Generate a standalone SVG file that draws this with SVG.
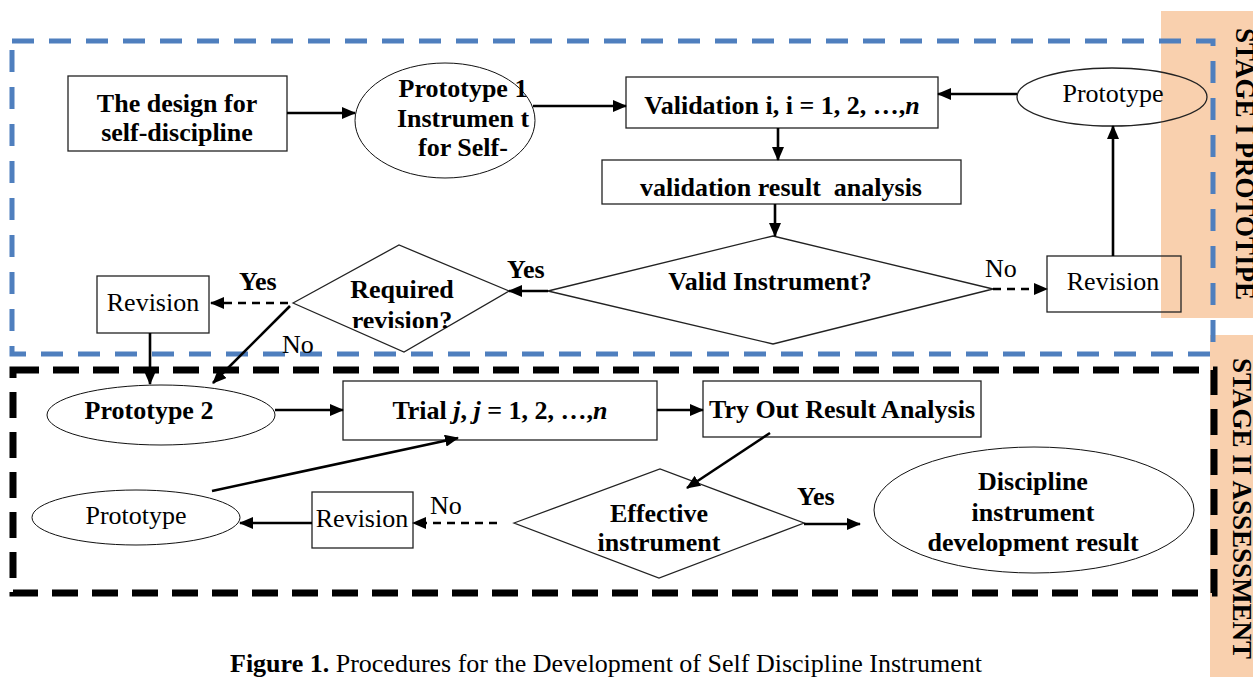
<svg xmlns="http://www.w3.org/2000/svg" width="1253" height="677" viewBox="0 0 1253 677">
  <style>
    text { font-family: "Liberation Serif", "Times New Roman", serif; font-size: 26px; fill: #000; }
    .b { font-weight: bold; }
    .c { text-anchor: middle; }
    .box { fill: #fff; stroke: #222; stroke-width: 1.3; }
    .open { fill: none; stroke: #222; stroke-width: 1.3; }
    .ell { fill: #fff; stroke: #111; stroke-width: 1; }
    .link { fill: none; stroke: #000; stroke-width: 2.6; marker-end: url(#head); }
    .dash { fill: none; stroke: #000; stroke-width: 2.6; stroke-dasharray: 8 6; marker-end: url(#head); }
    .band { fill: #F9D0AE; }
    .stage { font-size: 27px; font-weight: bold; }
  </style>
  <defs>
    <marker id="head" markerUnits="userSpaceOnUse" markerWidth="14" markerHeight="12" refX="13" refY="6" orient="auto">
      <path d="M0,0 L14,6 L0,12 z" fill="#000"/>
    </marker>
    <clipPath id="reqClip">
      <rect x="330" y="250" width="150" height="78"/>
    </clipPath>
  </defs>

  <!-- stage side bands -->
  <g id="stage-bands">
    <rect class="band" x="1161" y="11" width="92" height="307"/>
    <rect class="band" x="1210" y="335" width="43" height="342"/>
    <text class="stage" transform="translate(1236,28) rotate(90)">STAGE I PROTOTIPE</text>
    <text class="stage" transform="translate(1233,358) rotate(90)">STAGE II ASSESSMENT</text>
  </g>

  <!-- stage frames -->
  <g id="frames">
    <rect x="12" y="41" width="1201" height="313" fill="none" stroke="#4F7FBE" stroke-width="5" stroke-dasharray="22 15"/>
    <rect x="13" y="370" width="1201" height="223" fill="none" stroke="#000" stroke-width="7" stroke-dasharray="26 14"/>
  </g>

  <!-- Stage I nodes -->
  <g id="design">
    <rect class="box" x="68" y="76" width="219" height="75"/>
    <text class="b c" x="177" y="112">The design for</text>
    <text class="b c" x="177" y="141">self-discipline</text>
  </g>
  <g id="prototype1">
    <ellipse class="ell" cx="445" cy="120.5" rx="90" ry="57.5"/>
    <text class="b c" x="463" y="97">Prototype 1</text>
    <text class="b c" x="463" y="127">Instrumen t</text>
    <text class="b c" x="463" y="156">for Self-</text>
  </g>
  <g id="validation">
    <rect class="box" x="626" y="77" width="312" height="51"/>
    <text class="b c" x="782" y="114">Validation i, i = 1, 2, …,<tspan font-style="italic">n</tspan></text>
  </g>
  <g id="analysis">
    <rect class="box" x="602" y="160" width="359" height="44"/>
    <text class="b c" x="781" y="196" xml:space="preserve">validation result  analysis</text>
  </g>
  <g id="valid-decision">
    <polygon class="box" points="548,291 773,236 993,289 773,344"/>
    <text class="b c" x="770" y="290">Valid Instrument?</text>
  </g>
  <g id="prototype-top">
    <ellipse class="open" cx="1112" cy="97" rx="95" ry="29" stroke-width="1"/>
    <text class="c" x="1113" y="102">Prototype</text>
  </g>
  <g id="revision-top">
    <rect class="open" x="1047" y="256" width="134" height="56"/>
    <text class="c" x="1113" y="290">Revision</text>
  </g>
  <g id="required-decision">
    <polygon class="box" points="293,303 399,245 509,291 404,352"/>
    <text class="b c" x="402" y="298">Required</text>
    <text class="b c" x="402" y="329" clip-path="url(#reqClip)">revision?</text>
  </g>
  <g id="revision-left">
    <rect class="box" x="97" y="276" width="112" height="57"/>
    <text class="c" x="153" y="311">Revision</text>
  </g>

  <!-- Stage II nodes -->
  <g id="prototype2">
    <ellipse class="ell" cx="161" cy="415" rx="114" ry="30"/>
    <text class="b c" x="149" y="419">Prototype 2</text>
  </g>
  <g id="trial">
    <rect class="box" x="343" y="381" width="314" height="59"/>
    <text class="b c" x="500" y="419">Trial <tspan font-style="italic">j</tspan>, <tspan font-style="italic">j</tspan> = 1, 2, …,<tspan font-style="italic">n</tspan></text>
  </g>
  <g id="tryout">
    <rect class="box" x="703" y="381" width="278" height="56"/>
    <text class="b c" x="842" y="418">Try Out Result Analysis</text>
  </g>
  <g id="effective-decision">
    <polygon class="box" points="514,523 660,469 804,523 659,578"/>
    <text class="b c" x="659" y="522">Effective</text>
    <text class="b c" x="659" y="551">instrument</text>
  </g>
  <g id="result">
    <ellipse class="ell" cx="1034" cy="510" rx="160" ry="63"/>
    <text class="b c" x="1033" y="490">Discipline</text>
    <text class="b c" x="1033" y="521">instrument</text>
    <text class="b c" x="1033" y="551">development result</text>
  </g>
  <g id="revision-bottom">
    <rect class="box" x="312" y="492" width="101" height="56"/>
    <text class="c" x="362" y="527">Revision</text>
  </g>
  <g id="prototype-bottom">
    <ellipse class="ell" cx="136" cy="517.5" rx="104" ry="27.5"/>
    <text class="c" x="136" y="524">Prototype</text>
  </g>

  <!-- connectors -->
  <g id="connectors">
    <line class="link" x1="287" y1="113" x2="355" y2="113"/>
    <line class="link" x1="533" y1="106" x2="626" y2="106"/>
    <line class="link" x1="778" y1="128" x2="778" y2="160"/>
    <line class="link" x1="775" y1="204" x2="775" y2="236"/>
    <line class="link" x1="1017" y1="94" x2="938" y2="94"/>
    <line class="link" x1="1113" y1="256" x2="1113" y2="126"/>
    <line class="dash" x1="993" y1="289" x2="1047" y2="289"/>
    <line class="link" x1="548" y1="291" x2="509" y2="291"/>
    <line class="dash" x1="288" y1="303" x2="211" y2="303"/>
    <line class="link" x1="290" y1="306" x2="213" y2="383"/>
    <line class="link" x1="150" y1="333" x2="150" y2="384"/>
    <line class="link" x1="275" y1="410" x2="343" y2="410"/>
    <line class="link" x1="657" y1="410" x2="703" y2="410"/>
    <line class="link" x1="770" y1="433" x2="687" y2="488"/>
    <line class="link" x1="804" y1="524" x2="860" y2="524"/>
    <line class="dash" x1="497" y1="523" x2="413" y2="523"/>
    <line class="link" x1="312" y1="523" x2="240" y2="523"/>
    <line class="link" x1="212" y1="491" x2="458" y2="438"/>
  </g>

  <!-- branch labels -->
  <g id="labels">
    <text class="b" x="239" y="290">Yes</text>
    <text class="b" x="507" y="278">Yes</text>
    <text x="985" y="277">No</text>
    <text x="282" y="353">No</text>
    <text class="b" x="797" y="505">Yes</text>
    <text x="430" y="514">No</text>
  </g>

  <text x="230" y="672" font-size="24.5"><tspan font-weight="bold">Figure 1.</tspan> Procedures for the Development of Self Discipline Instrument</text>
</svg>
